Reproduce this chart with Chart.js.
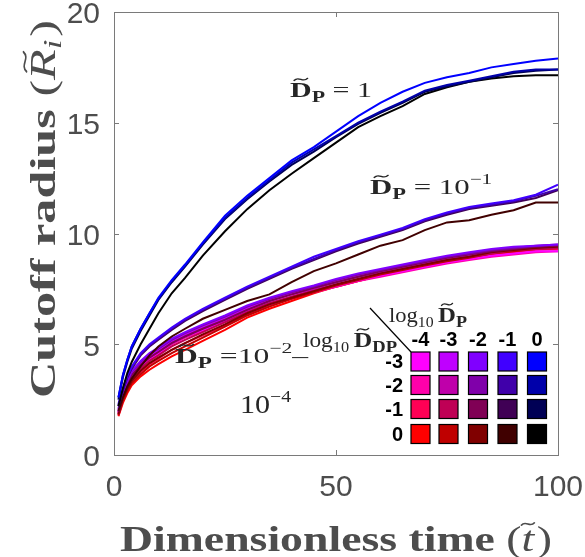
<!DOCTYPE html>
<html>
<head>
<meta charset="utf-8">
<script src="https://cdn.jsdelivr.net/npm/chart.js@4/dist/chart.umd.min.js"></script>
<style>
  html, body { margin: 0; padding: 0; background: #fff; }
  #wrap { width: 585px; height: 557px; }
</style>
</head>
<body>
<div id="wrap"><canvas id="c" width="585" height="557"></canvas></div>
<script>
// Sample times (dimensionless)
const times = [1, 2, 3, 4, 6, 8, 10, 13, 16, 20, 25, 30, 35, 40, 45, 50, 55, 60, 65, 70, 75, 80, 85, 90, 95, 100];

// Legend grid axes
const logDP  = [-4, -3, -2, -1, 0];
const logDDP = [-3, -2, -1, 0];

// Cutoff radius, named r_<log10 DP>_<log10 DDP> (m = minus)
// D_P = 1
const r_0_m3  = [2.6, 3.6, 4.3, 4.9, 5.7, 6.4, 7.1, 7.9, 8.6, 9.6, 10.8, 11.7, 12.5, 13.3, 13.9, 14.6, 15.3, 15.9, 16.4, 16.8, 17.05, 17.25, 17.5, 17.65, 17.8, 17.9];
const r_0_m2  = [2.6, 3.6, 4.3, 4.9, 5.7, 6.4, 7.05, 7.85, 8.55, 9.55, 10.7, 11.6, 12.4, 13.2, 13.8, 14.4, 15.0, 15.5, 15.95, 16.45, 16.7, 16.9, 17.1, 17.3, 17.4, 17.4];
const r_0_m1  = [2.5, 3.5, 4.2, 4.8, 5.6, 6.3, 7.0, 7.8, 8.5, 9.5, 10.65, 11.55, 12.35, 13.1, 13.7, 14.35, 14.95, 15.45, 15.9, 16.4, 16.65, 16.85, 17.05, 17.25, 17.35, 17.4];
const r_0_0   = [2.2, 3.0, 3.7, 4.2, 5.0, 5.7, 6.4, 7.3, 8.0, 9.0, 10.1, 11.1, 11.95, 12.7, 13.4, 14.1, 14.8, 15.3, 15.75, 16.3, 16.6, 16.85, 17.0, 17.1, 17.15, 17.15];
// D_P = 1e-1
const r_m1_m3 = [2.3, 3.0, 3.6, 4.0, 4.6, 5.0, 5.3, 5.75, 6.15, 6.6, 7.1, 7.6, 8.05, 8.5, 8.95, 9.3, 9.65, 9.95, 10.25, 10.65, 10.95, 11.2, 11.35, 11.5, 11.75, 12.2];
const r_m1_m2 = [2.25, 2.95, 3.55, 3.95, 4.55, 4.95, 5.25, 5.7, 6.1, 6.55, 7.05, 7.55, 8.0, 8.45, 8.85, 9.25, 9.6, 9.9, 10.2, 10.6, 10.9, 11.15, 11.3, 11.45, 11.7, 12.0];
const r_m1_m1 = [2.2, 2.9, 3.5, 3.9, 4.5, 4.9, 5.2, 5.65, 6.05, 6.5, 7.0, 7.5, 7.95, 8.4, 8.8, 9.2, 9.55, 9.85, 10.15, 10.55, 10.85, 11.1, 11.25, 11.4, 11.6, 11.95];
const r_m1_0  = [2.0, 2.6, 3.1, 3.45, 4.0, 4.5, 4.9, 5.35, 5.7, 6.15, 6.55, 6.95, 7.25, 7.8, 8.3, 8.65, 9.05, 9.45, 9.7, 10.15, 10.5, 10.6, 10.85, 11.05, 11.4, 11.4];
// D_P = 1e-2
const r_m2_m3 = [2.1, 2.85, 3.35, 3.8, 4.25, 4.6, 4.85, 5.25, 5.55, 5.9, 6.3, 6.75, 7.1, 7.4, 7.65, 7.95, 8.2, 8.4, 8.6, 8.8, 9.0, 9.15, 9.3, 9.4, 9.45, 9.5];
const r_m2_m2 = [2.05, 2.8, 3.3, 3.75, 4.2, 4.55, 4.8, 5.2, 5.5, 5.85, 6.25, 6.7, 7.05, 7.35, 7.6, 7.9, 8.15, 8.35, 8.55, 8.75, 8.95, 9.1, 9.25, 9.35, 9.45, 9.5];
const r_m2_m1 = [1.95, 2.7, 3.2, 3.6, 4.05, 4.4, 4.65, 5.05, 5.35, 5.7, 6.1, 6.55, 6.95, 7.25, 7.55, 7.8, 8.05, 8.3, 8.5, 8.7, 8.9, 9.05, 9.2, 9.3, 9.4, 9.45];
const r_m2_0  = [1.85, 2.55, 3.0, 3.35, 3.8, 4.15, 4.4, 4.75, 5.05, 5.45, 5.9, 6.4, 6.8, 7.1, 7.4, 7.7, 7.95, 8.2, 8.4, 8.6, 8.8, 8.95, 9.15, 9.25, 9.35, 9.4];
// D_P = 1e-3
const r_m3_m3 = [2.0, 2.8, 3.3, 3.7, 4.15, 4.5, 4.75, 5.15, 5.45, 5.8, 6.2, 6.65, 7.0, 7.3, 7.55, 7.85, 8.1, 8.3, 8.5, 8.7, 8.9, 9.05, 9.2, 9.35, 9.4, 9.45];
const r_m3_m2 = [1.95, 2.75, 3.25, 3.65, 4.1, 4.45, 4.7, 5.1, 5.4, 5.75, 6.15, 6.6, 6.95, 7.25, 7.5, 7.8, 8.05, 8.25, 8.45, 8.65, 8.85, 9.0, 9.15, 9.3, 9.35, 9.4];
const r_m3_m1 = [1.85, 2.6, 3.1, 3.45, 3.9, 4.25, 4.5, 4.9, 5.2, 5.55, 6.0, 6.45, 6.85, 7.15, 7.45, 7.7, 7.95, 8.2, 8.4, 8.6, 8.8, 8.95, 9.1, 9.25, 9.3, 9.35];
const r_m3_0  = [1.8, 2.45, 2.9, 3.25, 3.65, 4.0, 4.25, 4.6, 4.9, 5.3, 5.8, 6.3, 6.7, 7.05, 7.35, 7.65, 7.9, 8.15, 8.35, 8.55, 8.75, 8.9, 9.1, 9.2, 9.3, 9.35];
// D_P = 1e-4
const r_m4_m3 = [1.9, 2.7, 3.2, 3.6, 4.0, 4.35, 4.6, 5.05, 5.35, 5.65, 6.05, 6.5, 6.85, 7.15, 7.4, 7.65, 7.9, 8.1, 8.3, 8.5, 8.7, 8.85, 9.0, 9.1, 9.2, 9.2];
const r_m4_m2 = [1.9, 2.65, 3.15, 3.55, 3.95, 4.3, 4.55, 5.0, 5.3, 5.6, 6.0, 6.45, 6.8, 7.1, 7.35, 7.6, 7.85, 8.05, 8.25, 8.45, 8.65, 8.8, 8.95, 9.05, 9.15, 9.2];
const r_m4_m1 = [1.8, 2.5, 3.0, 3.35, 3.75, 4.1, 4.35, 4.75, 5.05, 5.4, 5.85, 6.35, 6.75, 7.05, 7.35, 7.6, 7.85, 8.1, 8.3, 8.5, 8.7, 8.85, 9.05, 9.15, 9.25, 9.3];
const r_m4_0  = [1.75, 2.35, 2.8, 3.15, 3.55, 3.85, 4.1, 4.45, 4.75, 5.15, 5.65, 6.2, 6.6, 6.95, 7.3, 7.6, 7.85, 8.1, 8.35, 8.55, 8.75, 8.9, 9.1, 9.2, 9.3, 9.35];

// Series table: rows follow logDDP, columns follow logDP
const radius = [
  [r_m4_m3, r_m3_m3, r_m2_m3, r_m1_m3, r_0_m3],
  [r_m4_m2, r_m3_m2, r_m2_m2, r_m1_m2, r_0_m2],
  [r_m4_m1, r_m3_m1, r_m2_m1, r_m1_m1, r_0_m1],
  [r_m4_0,  r_m3_0,  r_m2_0,  r_m1_0,  r_0_0 ]
];

// Colour mixing: red channel set by D_P column, blue channel by D_DP row
const redLevel  = [255, 191, 128, 64, 0];
const blueLevel = [255, 170, 85, 0];
const colorOf = (row, col) => `rgb(${redLevel[col]},0,${blueLevel[row]})`;

const datasets = [];
// high D_P groups first so they are painted on top
for (let col = logDP.length - 1; col >= 0; col--) {
  for (let row = 0; row < logDDP.length; row++) {
    const ys = radius[row][col];
    datasets.push({
      label: `logDP=${logDP[col]}, logDDP=${logDDP[row]}`,
      data: times.map((t, i) => ({ x: t, y: ys[i] })),
      borderColor: colorOf(row, col),
      borderWidth: 2,
      pointRadius: 0,
      tension: 0,
      fill: false
    });
  }
}

const AXIS_GREY = '#7a7a7a';
const LABEL_GREY = '#4d4d4d';
const TEXT_DARK = '#262626';

// Draws a tilde accent centred at cx with its middle at y
function tilde(ctx, cx, y, hw, lw) {
  ctx.save();
  ctx.lineWidth = lw;
  ctx.lineCap = 'round';
  ctx.beginPath();
  ctx.moveTo(cx - hw, y + hw * 0.22);
  ctx.bezierCurveTo(cx - hw * 0.35, y - hw * 0.75, cx + hw * 0.35, y + hw * 0.75, cx + hw, y - hw * 0.22);
  ctx.stroke();
  ctx.restore();
}

// Sequential rich text: parts = {t, f, dy, acc, gap}
function measureRich(ctx, parts) {
  let w = 0;
  for (const p of parts) { ctx.font = p.f; w += ctx.measureText(p.t).width + (p.gap || 0); }
  return w;
}
function drawRich(ctx, x, y, parts, color) {
  ctx.fillStyle = color;
  ctx.strokeStyle = color;
  ctx.textBaseline = 'alphabetic';
  ctx.textAlign = 'left';
  let cx = x;
  for (const p of parts) {
    ctx.font = p.f;
    const w = ctx.measureText(p.t).width;
    ctx.fillText(p.t, cx, y + (p.dy || 0));
    if (p.acc) tilde(ctx, cx + w / 2 + (p.acc.dx || 0), y + (p.dy || 0) - p.acc.h, p.acc.hw, p.acc.lw);
    cx += w + (p.gap || 0);
  }
  return cx;
}
// Rich text stretched horizontally to span [x0, x1]
function drawRichSpan(ctx, x0, x1, y, parts, color) {
  ctx.save();
  const w = measureRich(ctx, parts);
  ctx.translate(x0, y);
  ctx.scale((x1 - x0) / w, 1);
  drawRich(ctx, 0, 0, parts, color);
  ctx.restore();
}

const SERIF = '"Liberation Serif", "Times New Roman", serif';
const SANS = '"Liberation Sans", Arial, sans-serif';

const decorations = {
  id: 'decorations',
  afterDraw(chart) {
    const ctx = chart.ctx;
    const a = chart.chartArea;
    const xs = chart.scales.x, ys = chart.scales.y;

    // frame and inward ticks
    ctx.save();
    ctx.strokeStyle = AXIS_GREY;
    ctx.lineWidth = 1;
    ctx.strokeRect(Math.round(a.left) + 0.5, Math.round(a.top) + 0.5, Math.round(a.right - a.left), Math.round(a.bottom - a.top));
    ctx.beginPath();
    for (const v of [0, 50, 100]) {
      const px = Math.round(xs.getPixelForValue(v)) + 0.5;
      ctx.moveTo(px, a.bottom); ctx.lineTo(px, a.bottom - 5);
      ctx.moveTo(px, a.top); ctx.lineTo(px, a.top + 5);
    }
    for (const v of [0, 5, 10, 15, 20]) {
      const py = Math.round(ys.getPixelForValue(v)) + 0.5;
      ctx.moveTo(a.left, py); ctx.lineTo(a.left + 5, py);
      ctx.moveTo(a.right, py); ctx.lineTo(a.right - 5, py);
    }
    ctx.stroke();
    ctx.restore();

    // axis titles
    const titleSize = 36;
    const xt = [
      { t: 'Dimensionless time ', f: `bold ${titleSize}px ${SERIF}` },
      { t: '(', f: `${titleSize}px ${SERIF}` },
      { t: 't', f: `italic ${titleSize}px ${SERIF}`, acc: { h: 27, hw: 5, lw: 1.6 }, gap: 2 },
      { t: ')', f: `${titleSize}px ${SERIF}` }
    ];
    drawRichSpan(ctx, 120, 552, 551, xt, LABEL_GREY);

    const yt = [
      { t: 'Cutoff radius ', f: `bold ${titleSize}px ${SERIF}` },
      { t: '(', f: `${titleSize}px ${SERIF}` },
      { t: 'R', f: `italic ${titleSize}px ${SERIF}`, acc: { h: 30, hw: 7, lw: 1.6, dx: 2 } },
      { t: 'i', f: `italic ${Math.round(titleSize * 0.7)}px ${SERIF}`, dy: 6, gap: 2 },
      { t: ')', f: `${titleSize}px ${SERIF}` }
    ];
    ctx.save();
    ctx.translate(55, 398);
    ctx.rotate(-Math.PI / 2);
    drawRichSpan(ctx, 0, 378, 0, yt, LABEL_GREY);
    ctx.restore();

    // group annotations
    const D = (size) => ({ t: 'D', f: `bold ${size}px ${SERIF}`, acc: { h: size * 0.8, hw: size * 0.22, lw: 1.3 } });
    const sub = (txt, size) => ({ t: txt, f: `bold ${size}px ${SERIF}`, dy: size * 0.3 });
    const reg = (txt, size) => ({ t: txt, f: `${size}px ${SERIF}` });
    const sup = (txt, size) => ({ t: txt, f: `${size}px ${SERIF}`, dy: -size * 0.65 });
    drawRichSpan(ctx, 290, 372, 97, [D(22), sub('P', 16), reg(' = 1', 22)], TEXT_DARK);
    drawRichSpan(ctx, 370, 492, 194, [D(22), sub('P', 16), reg(' = 10', 22), sup('\u22121', 15)], TEXT_DARK);
    drawRichSpan(ctx, 175, 308, 363, [D(22), sub('P', 16), reg(' =10', 22), sup('\u22122', 15), reg('\u2013', 22)], TEXT_DARK);
    drawRichSpan(ctx, 240, 291, 413, [reg('10', 26), sup('\u22124', 17)], TEXT_DARK);

    // colour key
    ctx.save();
    const colX = [420.5, 448.5, 478, 507.5, 537];
    const rowY = [361.5, 385, 409, 434];
    const sq = 19;
    for (let r = 0; r < logDDP.length; r++) {
      for (let c = 0; c < logDP.length; c++) {
        ctx.fillStyle = colorOf(r, c);
        ctx.fillRect(colX[c] - sq / 2, rowY[r] - sq / 2, sq, sq);
        ctx.strokeStyle = '#000';
        ctx.lineWidth = 1.2;
        ctx.strokeRect(colX[c] - sq / 2, rowY[r] - sq / 2, sq, sq);
      }
    }
    ctx.fillStyle = '#000';
    ctx.font = `bold 20px ${SANS}`;
    ctx.textAlign = 'center';
    ctx.textBaseline = 'alphabetic';
    logDP.forEach((v, c) => ctx.fillText(String(v), colX[c], 346));
    ctx.textAlign = 'right';
    ctx.textBaseline = 'middle';
    logDDP.forEach((v, r) => ctx.fillText(String(v), 403, rowY[r] + 1));
    // diagonal divider
    ctx.strokeStyle = '#000';
    ctx.lineWidth = 1.2;
    ctx.beginPath();
    ctx.moveTo(370, 308);
    ctx.lineTo(411, 352);
    ctx.stroke();
    ctx.restore();
    // header labels
    const log10 = [reg('log', 20), { t: '10', f: `14px ${SERIF}`, dy: 5, gap: 4 }];
    drawRichSpan(ctx, 389, 467, 322, [...log10, D(22), sub('P', 16)], TEXT_DARK);
    drawRichSpan(ctx, 303, 397, 347, [...log10, D(22), sub('DP', 16)], TEXT_DARK);
  }
};

new Chart(document.getElementById('c'), {
  type: 'line',
  data: { datasets },
  options: {
    responsive: false,
    animation: false,
    devicePixelRatio: 1,
    layout: { padding: { top: 12, right: 27, left: 0, bottom: 0 } },
    plugins: { legend: { display: false }, tooltip: { enabled: false } },
    scales: {
      x: {
        type: 'linear', min: 0, max: 100,
        afterFit: (s) => { s.height = 102; s.paddingLeft = 0; s.paddingRight = 0; },
        grid: { display: false, drawTicks: false },
        border: { display: false },
        ticks: { stepSize: 50, maxRotation: 0, autoSkip: false, padding: 15, color: LABEL_GREY, font: { family: SANS, size: 30 } }
      },
      y: {
        type: 'linear', min: 0, max: 20,
        afterFit: (s) => { s.width = 114; s.paddingTop = 0; s.paddingBottom = 0; },
        grid: { display: false, drawTicks: false },
        border: { display: false },
        ticks: { stepSize: 5, padding: 14, labelOffset: 3, color: LABEL_GREY, font: { family: SANS, size: 30 } }
      }
    }
  },
  plugins: [decorations]
});
</script>
</body>
</html>
